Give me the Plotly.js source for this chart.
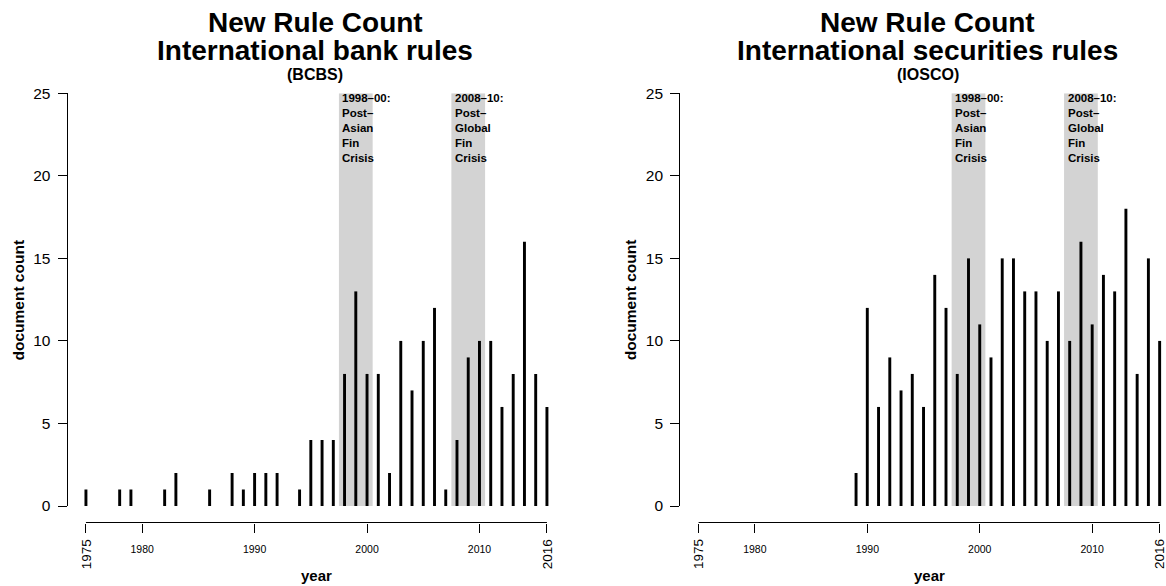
<!DOCTYPE html>
<html>
<head>
<meta charset="utf-8">
<script src="https://cdn.plot.ly/plotly-3.0.1.min.js"></script>
<style>html,body{margin:0;padding:0;background:#fff;}#chart{width:1166px;height:586px;}</style>
</head>
<body>
<div id="chart"></div>
<script>
// ---- data ----
var bcbsYears = [1975,1978,1979,1982,1983,1986,1988,1989,1990,1991,1992,1994,1995,1996,1997,1998,1999,2000,2001,2002,2003,2004,2005,2006,2007,2008,2009,2010,2011,2012,2013,2014,2015,2016];
var bcbsCounts = [1,1,1,1,2,1,2,1,2,2,2,1,4,4,4,8,13,8,8,2,10,7,10,12,1,4,9,10,10,6,8,16,8,6];
var ioscoYears = [1989,1990,1991,1992,1993,1994,1995,1996,1997,1998,1999,2000,2001,2002,2003,2004,2005,2006,2007,2008,2009,2010,2011,2012,2013,2014,2015,2016];
var ioscoCounts = [2,12,6,9,7,8,6,14,12,8,15,11,9,15,15,13,13,10,13,10,16,11,14,13,18,8,15,10];
var crisisStart = [1998, 2008];
var crisisEnd = [2000, 2010];
var crisisLabels = ["1998\u201300:<br>Post\u2013<br>Asian<br>Fin<br>Crisis", "2008\u201310:<br>Post\u2013<br>Global<br>Fin<br>Crisis"];
var titleLine1 = "New Rule Count";
var panelTitles = ["International bank rules", "International securities rules"];
var panelSubtitles = ["(BCBS)", "(IOSCO)"];
var midTickYears = [1980, 1990, 2000, 2010];
var endTickYears = [1975, 2016];
var yTicks = [0, 5, 10, 15, 20, 25];
var xLabel = "year";
var yLabel = "document count";

// ---- layout helpers ----
var W = 1166, H = 586;
function fx(px){ return px / W; }
function fy(py){ return 1 - py / H; }
var FONT = "Liberation Sans, Arial, Helvetica, sans-serif";
var pxPerYear = 11.244;
var panelOffset = 612.7;
var axisLeftPx = 67.5;        // plot-region left (y axis)
var yearAtLeft = 1973.36;
var y0px = 506, y25px = 93.3;
var xAxisPx = 522.5;

var panels = [
  {years: bcbsYears, counts: bcbsCounts},
  {years: ioscoYears, counts: ioscoCounts}
];

var traces = [], shapes = [], annotations = [];
var layout = {
  width: W, height: H,
  margin: {l:0, r:0, t:0, b:0},
  paper_bgcolor: "#ffffff", plot_bgcolor: "rgba(0,0,0,0)",
  showlegend: false,
  font: {family: FONT, color: "#000"}
};

panels.forEach(function(p, i){
  var sfx = i === 0 ? "" : "2";
  var off = i * panelOffset;
  var leftPx = axisLeftPx + off;
  var rightPx = Math.min(W, leftPx + (2017.64 - yearAtLeft) * pxPerYear);
  var xr = [yearAtLeft, yearAtLeft + (rightPx - leftPx) / pxPerYear];

  traces.push({
    type: "bar", x: p.years, y: p.counts, width: 0.26,
    marker: {color: "#000", line: {width: 0}},
    xaxis: "x" + sfx, yaxis: "y" + sfx, hoverinfo: "x+y"
  });

  var tickv = endTickYears.concat(midTickYears);
  var tickt = endTickYears.map(function(){return "";}).concat(midTickYears.map(String));

  layout["xaxis" + sfx] = {
    domain: [fx(leftPx), fx(rightPx)], range: xr,
    anchor: "free", position: fy(xAxisPx),
    showline: false, showgrid: false, zeroline: false,
    ticks: "outside", ticklen: 9, tickwidth: 1, tickcolor: "#000",
    tickmode: "array", tickvals: tickv, ticktext: tickt,
    tickfont: {family: FONT, size: 10.5, color: "#000"},
    ticklabelstandoff: 8, fixedrange: true
  };
  layout["yaxis" + sfx] = {
    domain: [fy(y0px), fy(y25px)], range: [0, 25],
    anchor: "x" + sfx,
    showline: true, linecolor: "#000", linewidth: 1,
    showgrid: false, zeroline: false,
    ticks: "outside", ticklen: 9, tickwidth: 1, tickcolor: "#000",
    tickmode: "array", tickvals: yTicks,
    tickfont: {family: FONT, size: 15.5, color: "#000"},
    ticklabelstandoff: 4, fixedrange: true
  };

  // x-axis lines (R style, offset below the plot)
  shapes.push({type: "line", xref: "x" + sfx, yref: "paper",
    x0: endTickYears[0], x1: endTickYears[1], y0: fy(xAxisPx), y1: fy(xAxisPx),
    line: {color: "#000", width: 1}});
  shapes.push({type: "line", xref: "x" + sfx, yref: "paper",
    x0: midTickYears[0], x1: midTickYears[midTickYears.length-1], y0: fy(xAxisPx), y1: fy(xAxisPx),
    line: {color: "#000", width: 1}});

  // crisis bands and labels
  crisisStart.forEach(function(s, k){
    shapes.push({type: "rect", xref: "x" + sfx, yref: "y" + sfx,
      x0: s - 0.5, x1: crisisEnd[k] + 0.5, y0: 0, y1: 25,
      fillcolor: "#d3d3d3", line: {width: 0}, layer: "below"});
    annotations.push({xref: "x" + sfx, yref: "y" + sfx, x: s - 0.5, y: 25,
      xanchor: "left", yanchor: "top", align: "left", showarrow: false,
      xshift: 1.5, yshift: 3, text: "<b>" + crisisLabels[k] + "</b>",
      font: {family: FONT, size: 11.5, color: "#000"}});
  });

  // rotated end labels 1975 / 2016
  endTickYears.forEach(function(yr){
    annotations.push({xref: "x" + sfx, yref: "paper", x: yr, y: fy(554.3),
      xanchor: "center", yanchor: "middle", textangle: -90, showarrow: false,
      text: String(yr), font: {family: FONT, size: 13.5, color: "#000"}});
  });

  // titles
  var cx = fx(315 + off);
  annotations.push({xref: "paper", yref: "paper", x: cx, y: fy(22), xanchor: "center", yanchor: "middle",
    showarrow: false, text: "<b>" + titleLine1 + "</b>", font: {family: FONT, size: 28, color: "#000"}});
  annotations.push({xref: "paper", yref: "paper", x: cx, y: fy(50.5), xanchor: "center", yanchor: "middle",
    showarrow: false, text: "<b>" + panelTitles[i] + "</b>", font: {family: FONT, size: 28, color: "#000"}});
  annotations.push({xref: "paper", yref: "paper", x: cx, y: fy(74.5), xanchor: "center", yanchor: "middle",
    showarrow: false, text: "<b>" + panelSubtitles[i] + "</b>", font: {family: FONT, size: 16, color: "#000"}});

  // axis titles
  annotations.push({xref: "paper", yref: "paper", x: fx(316.5 + off), y: fy(575), xanchor: "center", yanchor: "middle",
    showarrow: false, text: "<b>" + xLabel + "</b>", font: {family: FONT, size: 15, color: "#000"}});
  annotations.push({xref: "paper", yref: "paper", x: fx(17.5 + off), y: fy(300), xanchor: "center", yanchor: "middle",
    textangle: -90, showarrow: false, text: "<b>" + yLabel + "</b>", font: {family: FONT, size: 15.5, color: "#000"}});
});

layout.shapes = shapes;
layout.annotations = annotations;

Plotly.newPlot("chart", traces, layout, {staticPlot: true, displayModeBar: false});
</script>
</body>
</html>
